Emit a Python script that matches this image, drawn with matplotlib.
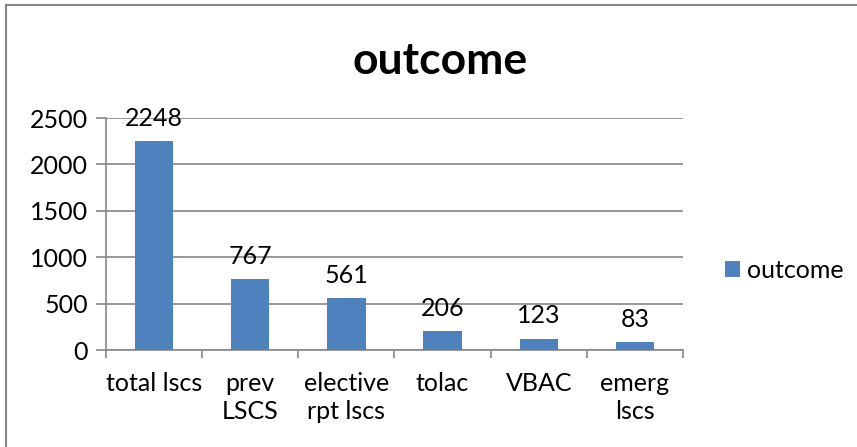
import matplotlib.pyplot as plt
from matplotlib.lines import Line2D

categories = ['total lscs', 'prev\nLSCS', 'elective\nrpt lscs', 'tolac', 'VBAC', 'emerg\nlscs']
values = [2248, 767, 561, 206, 123, 83]
y_ticks = [0, 500, 1000, 1500, 2000, 2500]

plt.rcParams['font.family'] = ['Lato', 'DejaVu Sans']
bar_color = '#4F81BD'
line_color = '#868686'

fig = plt.figure(figsize=(8.57, 4.47), dpi=100)
ax = fig.add_axes([106 / 857, 1 - 350 / 447, (683 - 106) / 857, (350 - 118) / 447])

x = list(range(len(categories)))
bars = ax.bar(x, values, width=0.4, color=bar_color, label='outcome', zorder=3)

for xi, v in zip(x, values):
    ax.annotate(str(v), (xi, v), xytext=(0, 8), textcoords='offset points',
                ha='center', va='bottom', fontsize=18, color='black')

ax.set_xlim(-0.5, len(categories) - 0.5)
ax.set_ylim(0, 2500)
ax.set_yticks(y_ticks)
ax.set_yticklabels([str(t) for t in y_ticks])
ax.set_xticks(x)
ax.set_xticklabels(categories, fontsize=18, linespacing=1.25)
ax.set_xticks([i - 0.5 for i in range(len(categories) + 1)], minor=True)
ax.tick_params(axis='x', which='major', length=0, pad=16)
ax.tick_params(axis='x', which='minor', length=6, width=1.2, color=line_color)
ax.tick_params(axis='y', length=7, width=1.2, color=line_color, labelsize=18, pad=6)

ax.yaxis.grid(True, color=line_color, linewidth=1.2, zorder=0)
ax.set_axisbelow(True)
for side in ['top', 'right']:
    ax.spines[side].set_visible(False)
for side in ['left', 'bottom']:
    ax.spines[side].set_color(line_color)
    ax.spines[side].set_linewidth(1.2)

ax.set_title('outcome', fontsize=32, fontweight='bold', x=(440 - 106) / 577, pad=32)

fig.legend(handles=[bars], loc='center left', bbox_to_anchor=(725 / 857, 1 - 270 / 447),
           frameon=False, fontsize=18, handlelength=0.6, handleheight=0.6,
           handletextpad=0.28, borderpad=0, borderaxespad=0)

# outer chart frame
fig.add_artist(Line2D([6 / 857, 6 / 857], [0, 1 - 5 / 447], color=line_color, linewidth=1.5))
fig.add_artist(Line2D([6 / 857, 1], [1 - 5 / 447, 1 - 5 / 447], color=line_color, linewidth=1.5))

fig.savefig('out.png', dpi=100)
